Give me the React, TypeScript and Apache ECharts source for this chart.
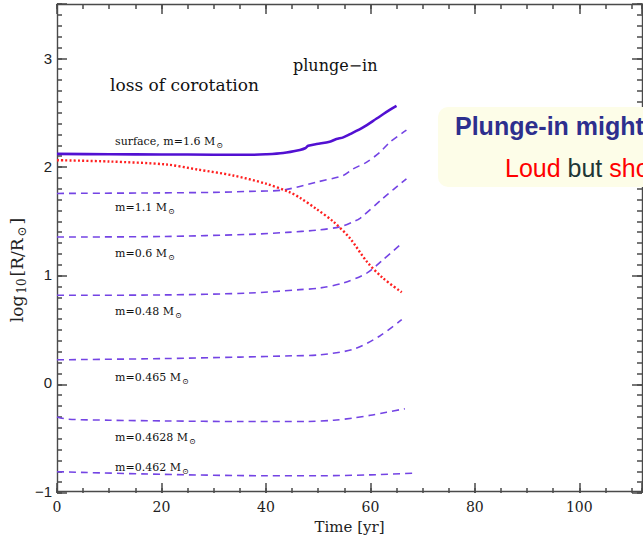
import React, { useEffect, useRef } from 'react';
import * as echarts from 'echarts';

// Time axis [yr] and log10(R/Rsun) for each tracked layer
const surfaceTime = [0, 10, 20, 30, 36.9, 40, 43.3, 46.5, 47.5, 48.1, 49.7, 52.2, 53.5, 54.8, 56.1, 58.6, 61.2, 63.7, 65.0];
const surfaceLogR = [2.115, 2.112, 2.11, 2.108, 2.107, 2.112, 2.124, 2.152, 2.167, 2.19, 2.206, 2.228, 2.252, 2.268, 2.298, 2.36, 2.442, 2.521, 2.558];

const corotTime = [0, 10, 21, 27, 33.7, 40, 44.6, 46.5, 49.7, 52.9, 56.1, 59.3, 62.4, 66.0];
const corotLogR = [2.057, 2.045, 2.017, 1.97, 1.916, 1.84, 1.76, 1.71, 1.605, 1.49, 1.335, 1.121, 0.968, 0.837];

const m110Time = [0, 20, 30, 36.9, 43.3, 49.7, 54.8, 56.7, 59.3, 61.8, 63.7, 66.9];
const m110LogR = [1.75, 1.755, 1.76, 1.769, 1.782, 1.855, 1.916, 1.977, 2.039, 2.13, 2.222, 2.335];

const m060Time = [0, 20, 36.9, 44, 49.7, 54.2, 56.7, 58, 62.3, 64.5, 66.9];
const m060LogR = [1.347, 1.352, 1.372, 1.39, 1.411, 1.442, 1.488, 1.52, 1.70, 1.79, 1.885];

const m048Time = [0, 20, 36.9, 46.5, 50.3, 54.8, 59.3, 62.4, 66.0];
const m048LogR = [0.809, 0.812, 0.83, 0.861, 0.876, 0.922, 1.014, 1.136, 1.289];

const m0465Time = [0, 20, 35, 45, 50.3, 56.7, 61.8, 66.0];
const m0465LogR = [0.213, 0.224, 0.238, 0.25, 0.259, 0.31, 0.433, 0.585];

const m04628Time = [0, 2, 10, 21, 35, 48, 53, 56.7, 60, 63.1, 66.6];
const m04628LogR = [-0.315, -0.335, -0.345, -0.352, -0.357, -0.357, -0.345, -0.325, -0.3, -0.271, -0.24];

const m0462Time = [0, 20, 40, 50, 60, 68];
const m0462LogR = [-0.821, -0.845, -0.858, -0.858, -0.85, -0.835];

// Axis extents and tick spacing
const timeMin = 0;
const timeMax = 112;
const timeMajor = 20;
const timeMinor = 5;
const logRMin = -1;
const logRMax = 3.5;
const logRMajor = 1;
const logRMinor = 0.1;

// Shell annotations
const shellLabels = ['surface, m=1.6 M', 'm=1.1 M', 'm=0.6 M', 'm=0.48 M', 'm=0.465 M', 'm=0.4628 M', 'm=0.462 M'];
const shellLabelY = [141, 207.5, 253, 311, 377, 437.5, 467];

const pairs = (t: number[], v: number[]) => t.map((x, i) => [x, v[i]]);

const AXIS_COLOR = '#4a4a4a';
const SERIF = '"DejaVu Serif", serif';
const SANS = '"Liberation Sans", Arial, sans-serif';

const WIDTH = 643;
const HEIGHT = 539;
const GRID = { left: 57, right: 1, top: 4, bottom: 46 };
const MAJOR_PX = 10;
const MINOR_PX = 5;

export default function App() {
  const ref = useRef<HTMLDivElement>(null);

  useEffect(() => {
    if (!ref.current) return;
    const chart = echarts.init(ref.current, undefined, { renderer: 'svg' });

    const plotH = HEIGHT - GRID.top - GRID.bottom;
    const plotBottomY = GRID.top + plotH;

    // Thin strips along each frame edge; their split lines form the inward ticks
    const strips = [
      { side: 'bottom', len: MAJOR_PX, step: timeMajor },
      { side: 'bottom', len: MINOR_PX, step: timeMinor },
      { side: 'top', len: MAJOR_PX, step: timeMajor },
      { side: 'top', len: MINOR_PX, step: timeMinor },
      { side: 'left', len: MAJOR_PX, step: logRMajor },
      { side: 'left', len: MINOR_PX, step: logRMinor },
      { side: 'right', len: MAJOR_PX, step: logRMajor },
      { side: 'right', len: MINOR_PX, step: logRMinor },
    ];
    const stripGrid = (s: { side: string; len: number }) => {
      if (s.side === 'bottom') return { left: GRID.left, right: GRID.right, top: plotBottomY - s.len, height: s.len };
      if (s.side === 'top') return { left: GRID.left, right: GRID.right, top: GRID.top, height: s.len };
      if (s.side === 'left') return { left: GRID.left, width: s.len, top: GRID.top, bottom: GRID.bottom };
      return { left: WIDTH - GRID.right - s.len, width: s.len, top: GRID.top, bottom: GRID.bottom };
    };
    const splitAxis = (gridIndex: number, min: number, max: number, step: number) => ({
      type: 'value',
      gridIndex,
      min,
      max,
      interval: step,
      axisLine: { show: false },
      axisTick: { show: false },
      axisLabel: { show: false },
      splitLine: { show: true, lineStyle: { color: AXIS_COLOR, width: 1.5 } },
    });
    const blankAxis = (gridIndex: number) => ({
      type: 'value',
      gridIndex,
      min: 0,
      max: 1,
      axisLine: { show: false },
      axisTick: { show: false },
      axisLabel: { show: false },
      splitLine: { show: false },
    });
    const stripX = strips.map((s, i) =>
      s.side === 'bottom' || s.side === 'top' ? splitAxis(i + 1, timeMin, timeMax, s.step) : blankAxis(i + 1)
    );
    const stripY = strips.map((s, i) =>
      s.side === 'left' || s.side === 'right' ? splitAxis(i + 1, logRMin, logRMax, s.step) : blankAxis(i + 1)
    );

    const xAxisBase = (position: 'bottom' | 'top', labels: boolean) => ({
      type: 'value',
      gridIndex: 0,
      position,
      min: timeMin,
      max: timeMax,
      interval: timeMajor,
      splitLine: { show: false },
      axisLine: { show: true, onZero: false, lineStyle: { color: AXIS_COLOR, width: 1.4 } },
      axisTick: { show: false },
      axisLabel: labels
        ? {
            show: true,
            margin: 9,
            color: '#222',
            fontFamily: SERIF,
            fontSize: 14,
            showMaxLabel: false,
            formatter: (v: number) => (v % timeMajor === 0 ? String(v) : ''),
          }
        : { show: false },
    });
    const yAxisBase = (position: 'left' | 'right', labels: boolean) => ({
      type: 'value',
      gridIndex: 0,
      position,
      min: logRMin,
      max: logRMax,
      interval: logRMajor,
      splitLine: { show: false },
      axisLine: { show: true, onZero: false, lineStyle: { color: AXIS_COLOR, width: 1.4 } },
      axisTick: { show: false },
      axisLabel: labels
        ? {
            show: true,
            margin: 5,
            color: '#222',
            fontFamily: SANS,
            fontSize: 15,
            formatter: (v: number) =>
              Math.abs(v - Math.round(v)) < 1e-9 ? (v < 0 ? '\u2212' + Math.abs(v) : String(v)) : '',
          }
        : { show: false },
    });

    const dashed = (name: string, t: number[], v: number[]) => ({
      name,
      type: 'line',
      xAxisIndex: 0,
      yAxisIndex: 0,
      data: pairs(t, v),
      showSymbol: false,
      symbol: 'none',
      smooth: 0.3,
      lineStyle: { color: '#7444e4', width: 1.6, type: [7, 5] },
      z: 3,
    });

    const subRich = {
      t: { fontFamily: SERIF, fontSize: 11, fill: '#111', lineHeight: 16, verticalAlign: 'middle' },
      s: { fontFamily: SERIF, fontSize: 8, fill: '#111', lineHeight: 16, verticalAlign: 'bottom', padding: [4, 0, 0, 1] },
    };

    const option = {
      animation: false,
      backgroundColor: '#ffffff',
      grid: [{ ...GRID, containLabel: false }, ...strips.map(stripGrid)],
      xAxis: [
        {
          ...xAxisBase('bottom', true),
          name: 'Time [yr]',
          nameLocation: 'middle',
          nameGap: 26,
          nameTextStyle: { fontFamily: SERIF, fontSize: 15, color: '#222' },
        },
        xAxisBase('top', false),
        ...stripX,
      ],
      yAxis: [yAxisBase('left', true), yAxisBase('right', false), ...stripY],
      series: [
        {
          name: 'surface',
          type: 'line',
          xAxisIndex: 0,
          yAxisIndex: 0,
          data: pairs(surfaceTime, surfaceLogR),
          showSymbol: false,
          symbol: 'none',
          smooth: 0.3,
          lineStyle: { color: '#5210d2', width: 2.6 },
          z: 4,
        },
        dashed('m=1.1', m110Time, m110LogR),
        dashed('m=0.6', m060Time, m060LogR),
        dashed('m=0.48', m048Time, m048LogR),
        dashed('m=0.465', m0465Time, m0465LogR),
        dashed('m=0.4628', m04628Time, m04628LogR),
        dashed('m=0.462', m0462Time, m0462LogR),
        {
          name: 'corotation radius',
          type: 'line',
          xAxisIndex: 0,
          yAxisIndex: 0,
          data: pairs(corotTime, corotLogR),
          showSymbol: false,
          symbol: 'none',
          smooth: 0.3,
          lineStyle: { color: '#ff2020', width: 2.4, type: [2, 2.2] },
          z: 5,
        },
      ],
      graphic: [
        {
          type: 'text',
          x: 17,
          y: 270,
          rotation: Math.PI / 2,
          style: {
            text: '{a|log}{s|10}{a|[R/R}{s|\u2299}{a|]}',
            align: 'center',
            verticalAlign: 'middle',
            rich: {
              a: { fontFamily: SERIF, fontSize: 17, fill: '#222', lineHeight: 22, verticalAlign: 'middle', padding: [0, 1, 0, 1] },
              s: { fontFamily: SERIF, fontSize: 12, fill: '#222', lineHeight: 22, verticalAlign: 'bottom', padding: [5, 1, 0, 1] },
            },
          },
        },
        {
          type: 'text',
          x: 110,
          y: 85,
          style: { text: 'loss of corotation', fontFamily: SERIF, fontSize: 17, fill: '#111', verticalAlign: 'middle' },
        },
        {
          type: 'text',
          x: 293,
          y: 65,
          style: { text: 'plunge\u2212in', fontFamily: SERIF, fontSize: 16, fill: '#111', verticalAlign: 'middle' },
        },
        ...shellLabels.map((label, i) => ({
          type: 'text',
          x: 115,
          y: shellLabelY[i],
          style: { text: `{t|${label}}{s|\u2299}`, verticalAlign: 'middle', rich: subRich },
        })),
        {
          type: 'rect',
          shape: { x: 438, y: 107, width: 240, height: 80, r: 10 },
          style: { fill: '#fdfde8' },
          z: 10,
        },
        {
          type: 'text',
          x: 455,
          y: 126,
          z: 11,
          style: {
            text: 'Plunge-in might',
            fontFamily: SANS,
            fontWeight: 'bold',
            fontSize: 25,
            fill: '#2d2f8e',
            verticalAlign: 'middle',
          },
        },
        {
          type: 'text',
          x: 505,
          y: 168,
          z: 11,
          style: {
            text: '{r|Loud} {d|but} {r|short}',
            verticalAlign: 'middle',
            fontFamily: SANS,
            fontSize: 25,
            fill: '#203636',
            rich: {
              r: { fontFamily: SANS, fontSize: 25, fill: '#ff0000' },
              d: { fontFamily: SANS, fontSize: 25, fill: '#203636' },
            },
          },
        },
      ],
    };
    chart.setOption(option as any);
    return () => chart.dispose();
  }, []);

  return (
    <div
      ref={ref}
      style={{ position: 'fixed', left: 0, top: 0, width: WIDTH, height: HEIGHT, background: '#fff' }}
    />
  );
}
